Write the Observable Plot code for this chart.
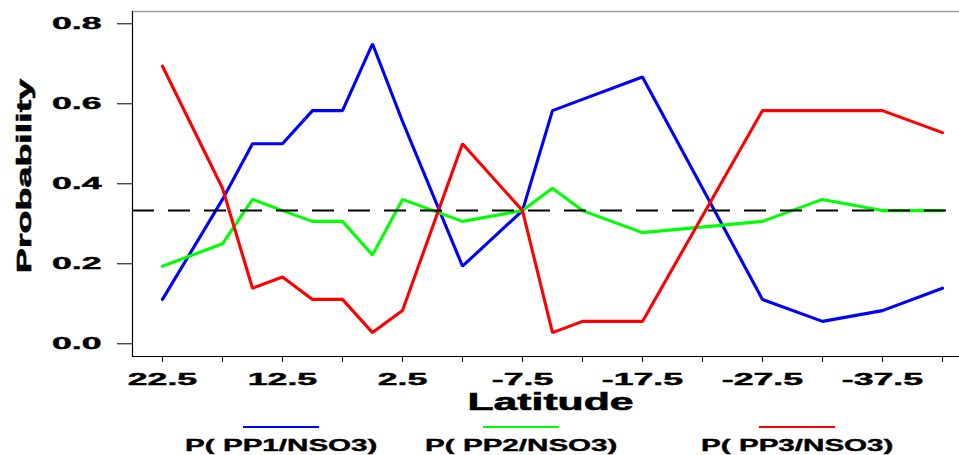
<!DOCTYPE html>
<html>
<head>
<meta charset="utf-8">
<script src="https://cdn.jsdelivr.net/npm/d3@7"></script>
<script src="https://cdn.jsdelivr.net/npm/@observablehq/plot@0.6"></script>
<style>
  html, body { margin: 0; padding: 0; background: #fff; }
  #wrap { position: relative; width: 959px; height: 455px; overflow: hidden; background: #fff;
          font-family: "Liberation Sans", Arial, sans-serif; font-weight: bold; }
  #wrap svg { display: block; }
  .leg-line { position: absolute; height: 2px; }
  .leg-label { position: absolute; width: 300px; text-align: center; font-size: 17px; line-height: 17px; color: #000; -webkit-text-stroke: 0.4px #000; }
  .leg-label span { display: inline-block; transform: scaleX(1.74); transform-origin: 50% 50%; }
</style>
</head>
<body>
<div id="wrap"></div>
<script>
// ---- data ----
const latitudes = [22.5, 17.5, 15, 12.5, 10, 7.5, 5, 2.5, -2.5, -7.5, -10, -12.5, -17.5, -27.5, -32.5, -37.5, -42.5];
const pPP1 = [0.111, 0.361, 0.500, 0.500, 0.583, 0.583, 0.750, 0.556, 0.194, 0.333, 0.583, 0.611, 0.667, 0.111, 0.056, 0.083, 0.139];
const pPP2 = [0.194, 0.250, 0.361, 0.333, 0.306, 0.306, 0.222, 0.361, 0.306, 0.333, 0.389, 0.333, 0.278, 0.306, 0.361, 0.333, 0.333];
const pPP3 = [0.694, 0.389, 0.139, 0.167, 0.111, 0.111, 0.028, 0.083, 0.500, 0.333, 0.028, 0.056, 0.056, 0.583, 0.583, 0.583, 0.528];
const seriesNames = ["P( PP1/NSO3)", "P( PP2/NSO3)", "P( PP3/NSO3)"];
const seriesColors = ["#0000ff", "#00ff00", "#ff0000"];
const xTickMarks = [22.5, 17.5, 12.5, 7.5, 2.5, -2.5, -7.5, -12.5, -17.5, -22.5, -27.5, -32.5, -37.5, -42.5];
const xTickLabels = [22.5, 12.5, 2.5, -7.5, -17.5, -27.5, -37.5];
const yTicks = [0, 0.2, 0.4, 0.6, 0.8];
const refLevel = 1 / 3;
const xTitle = "Latitude";
const yTitle = "Probability";

// ---- layout ----
const W = 959, H = 418;
const xDomain = [25, -43.92];
const yDomain = [-0.03175, 0.83075];

const seriesValues = [pPP1, pPP2, pPP3];
const rows = seriesNames.flatMap((s, k) => latitudes.map((lat, i) => ({lat, p: seriesValues[k][i], s})));

const fontFamily = '"Liberation Sans", Arial, sans-serif';

const svg = Plot.plot({
  width: W,
  height: H,
  marginLeft: 132,
  marginRight: 0,
  marginTop: 11,
  marginBottom: H - 356,
  style: {fontFamily, fontWeight: "bold", fontSize: "17px", color: "#000", background: "#fff", overflow: "visible"},
  x: {domain: xDomain},
  y: {domain: yDomain},
  color: {domain: seriesNames, range: seriesColors},
  marks: [
    Plot.ruleY([yDomain[1]], {stroke: "#a0a0a0", strokeWidth: 1.5}),
    Plot.line(rows, {x: "lat", y: "p", z: "s", stroke: "s", strokeWidth: 3.1, strokeLinejoin: "miter"}),
    Plot.ruleY([refLevel], {stroke: "#000", strokeWidth: 2, strokeDasharray: "22,14"}),
    Plot.ruleX([xDomain[0]], {stroke: "#000", strokeWidth: 1.2}),
    Plot.ruleY([yDomain[0]], {stroke: "#000", strokeWidth: 1.2}),
    Plot.axisY({ticks: yTicks, tickFormat: d => d.toFixed(1), tickSize: 15, tickPadding: 16, label: null, fontSize: 17, stroke: "#000"}),
    Plot.axisX({ticks: xTickMarks, tickFormat: d => xTickLabels.includes(d) ? d.toFixed(1) : "", tickSize: 6, tickPadding: 10, label: null, fontSize: 17, stroke: "#000"}),
    Plot.text([yTitle], {frameAnchor: "left", dx: -108, dy: -8, rotate: -90, fontSize: 20, fontWeight: "bold", textAnchor: "middle", lineAnchor: "middle", fill: "#000"}),
    Plot.text([xTitle], {frameAnchor: "bottom", dx: 4.5, dy: 46, fontSize: 24, fontWeight: "bold", textAnchor: "middle", lineAnchor: "middle", fill: "#000"})
  ]
});

const wrap = document.getElementById("wrap");
wrap.appendChild(svg);

// horizontal stretch and extra weight of the wide bold lettering
svg.querySelectorAll("text").forEach(t => {
  const txt = t.textContent;
  if (!txt) return;
  const f = txt === yTitle ? 1.88 : txt === xTitle ? 1.78 : 2.1;
  const tr = t.getAttribute("transform") || "";
  t.setAttribute("transform", (tr + ` scale(${f},1)`).trim());
  t.setAttribute("stroke", "#000");
  t.setAttribute("stroke-width", txt === yTitle || txt === xTitle ? "0.6" : "0.45");
});

// ---- legend below the plot ----
const legendCenters = [281, 521, 797];
seriesNames.forEach((name, i) => {
  const ln = document.createElement("div");
  ln.className = "leg-line";
  ln.style.left = (legendCenters[i] - 38) + "px";
  ln.style.top = "426px";
  ln.style.width = "76px";
  ln.style.background = seriesColors[i];
  wrap.appendChild(ln);
  const lb = document.createElement("div");
  lb.className = "leg-label";
  lb.style.left = (legendCenters[i] - 150) + "px";
  lb.style.top = "437px";
  const sp = document.createElement("span");
  sp.textContent = name;
  lb.appendChild(sp);
  wrap.appendChild(lb);
});
</script>
</body>
</html>
